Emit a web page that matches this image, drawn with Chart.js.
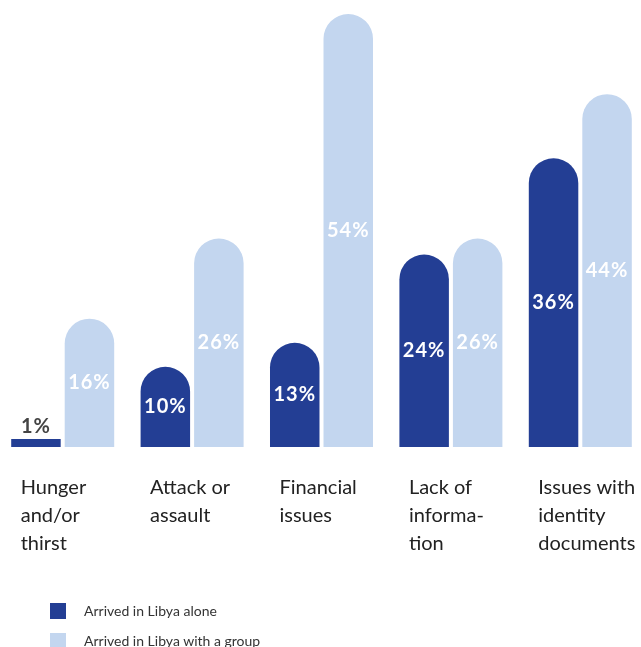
<!DOCTYPE html>
<html>
<head>
<meta charset="utf-8">
<script src="https://cdn.jsdelivr.net/npm/chart.js@4/dist/chart.umd.min.js"></script>
<style>
  html, body { margin: 0; padding: 0; background: #fff; overflow: hidden; }
  body { width: 641px; height: 647px; position: relative; font-family: Lato, "Open Sans", sans-serif; }
  #wrap { position: absolute; left: -2px; top: 0; width: 647px; height: 647px; }
  .legend { position: absolute; left: 50px; font-size: 14px; color: #333; }
  .legend div { position: relative; height: 30px; line-height: 16px; padding-left: 34px; }
  .legend span { position: absolute; left: 0; top: 0; width: 16px; height: 16px; }
</style>
</head>
<body>
<div id="wrap"><canvas id="chart"></canvas></div>
<div class="legend" style="top:603px">
  <div><span style="background:#233e94"></span>Arrived in Libya alone</div>
  <div><span style="background:#c3d6ef"></span>Arrived in Libya with a group</div>
</div>
<script>
document.addEventListener("DOMContentLoaded", function () {
  const categories = [
    ["Hunger", "and/or", "thirst"],
    ["Attack or", "assault"],
    ["Financial", "issues"],
    ["Lack of", "informa-", "tion"],
    ["Issues with", "identity", "documents"]
  ];
  const aloneValues = [1, 10, 13, 24, 36];
  const groupValues = [16, 26, 54, 26, 44];
  const seriesNames = ["Arrived in Libya alone", "Arrived in Libya with a group"];

  const darkBlue = "#233e94";
  const lightBlue = "#c3d6ef";

  // % labels in the middle of each bar (above it when the bar is too short)
  const valueLabels = {
    id: "valueLabels",
    afterDatasetsDraw(chart) {
      const ctx = chart.ctx;
      ctx.save();
      ctx.font = "bold 20px Lato, sans-serif";
      ctx.letterSpacing = "1px";
      ctx.textAlign = "center";
      chart.data.datasets.forEach(function (ds, i) {
        chart.getDatasetMeta(i).data.forEach(function (bar, j) {
          const v = ds.data[j];
          const h = bar.base - bar.y;
          if (h < 30) {
            ctx.fillStyle = "#444";
            ctx.textBaseline = "bottom";
            ctx.fillText(v + "%", bar.x, bar.y - 2);
          } else {
            ctx.fillStyle = "#fff";
            ctx.textBaseline = "middle";
            ctx.fillText(v + "%", bar.x, bar.y + h / 2);
          }
        });
      });
      ctx.restore();
    }
  };

  // left-aligned, multi-line category labels under each group
  const categoryLabels = {
    id: "categoryLabels",
    afterDraw(chart) {
      const ctx = chart.ctx;
      const x = chart.scales.x;
      const top = chart.chartArea.bottom;
      ctx.save();
      ctx.font = "20px Lato, sans-serif";
      ctx.fillStyle = "#222";
      ctx.textAlign = "left";
      ctx.textBaseline = "middle";
      chart.data.labels.forEach(function (lines, i) {
        const left = x.getPixelForValue(i) - 42;
        lines.forEach(function (line, k) {
          ctx.fillText(line, left, top + 41 + k * 28);
        });
      });
      ctx.restore();
    }
  };

  function rounded(context) {
    if (context.raw < 3) return 0;
    return { topLeft: 25, topRight: 25, bottomLeft: 0, bottomRight: 0 };
  }

  new Chart(document.getElementById("chart"), {
    type: "bar",
    data: {
      labels: categories,
      datasets: [
        { label: seriesNames[0], data: aloneValues, backgroundColor: darkBlue },
        { label: seriesNames[1], data: groupValues, backgroundColor: lightBlue }
      ]
    },
    options: {
      responsive: true,
      maintainAspectRatio: false,
      animation: false,
      layout: { padding: { top: 6, bottom: 200, left: 0, right: 0 } },
      datasets: {
        bar: {
          categoryPercentage: 0.827,
          barPercentage: 0.925,
          borderRadius: rounded,
          borderSkipped: "start"
        }
      },
      plugins: {
        legend: { display: false },
        tooltip: { enabled: false }
      },
      scales: {
        x: {
          display: false
        },
        y: {
          display: false,
          min: 0,
          max: 55
        }
      }
    },
    plugins: [valueLabels, categoryLabels]
  });
});
</script>
</body>
</html>
